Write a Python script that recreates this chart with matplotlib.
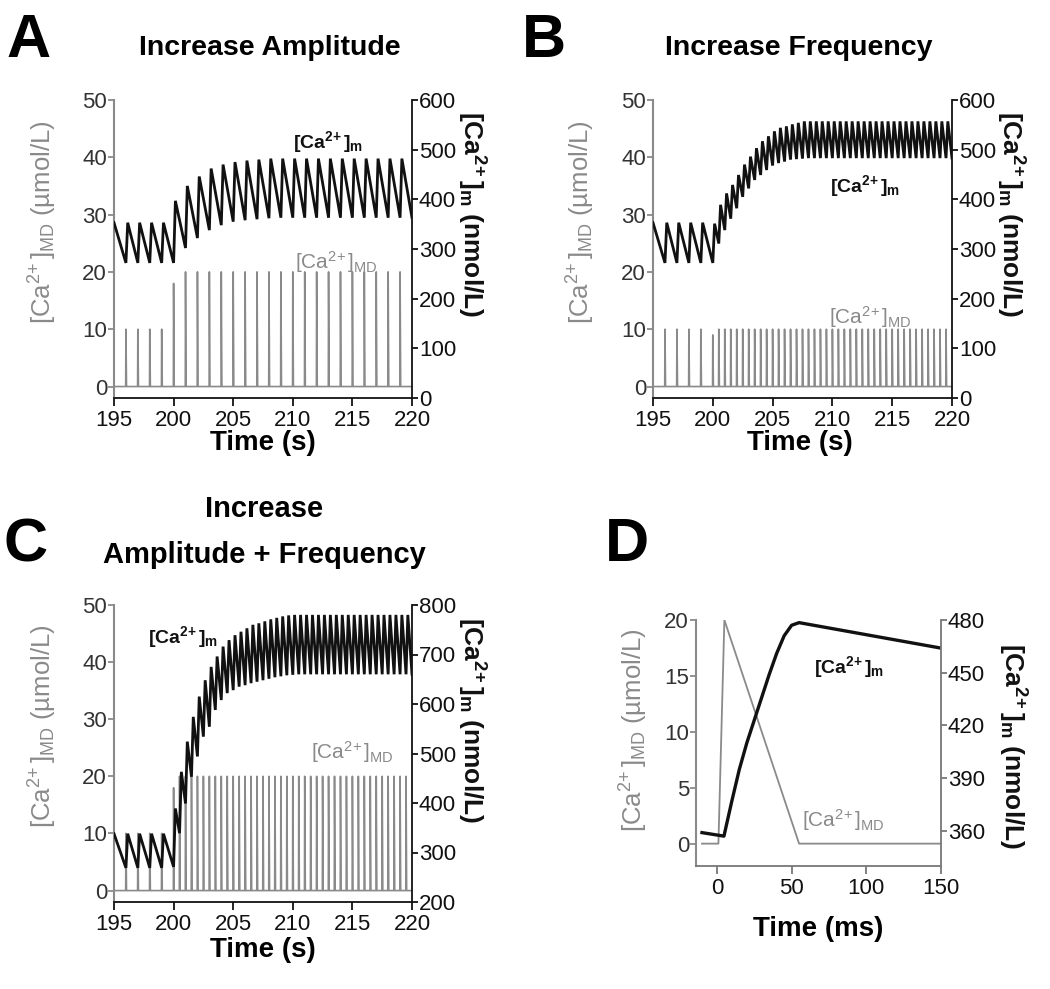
import numpy as np
import matplotlib
matplotlib.use("Agg")
import matplotlib.pyplot as plt

plt.rcParams["font.family"] = "Liberation Sans"
plt.rcParams["mathtext.fontset"] = "custom"
plt.rcParams["mathtext.rm"] = "Liberation Sans"
plt.rcParams["mathtext.bf"] = "Liberation Sans:bold"
plt.rcParams["mathtext.it"] = "Liberation Sans:italic"

W, H = 1050, 989
GRAY = "#8a8a8a"
BLACK = "#111111"

# time window of panels A-C (s)
T_START, T_END = 195, 220

# ---- panel A: increase amplitude ----
spikeA_t = [196, 197, 198, 199, 200, 201, 202, 203, 204, 205, 206, 207, 208, 209,
            210, 211, 212, 213, 214, 215, 216, 217, 218, 219]
spikeA_amp = [10, 10, 10, 10, 18, 20, 20, 20, 20, 20, 20, 20, 20, 20,
              20, 20, 20, 20, 20, 20, 20, 20, 20, 20]
mA_t = [195] + spikeA_t
mA_peak = [353, 353, 353, 353, 353, 397, 427, 446, 462, 470, 475, 478, 480,
           482, 482, 482, 482, 482, 482, 482, 482, 482, 482, 482, 482]
mA_trough = [272, 272, 272, 272, 272, 302, 322, 338, 348, 355, 358, 360, 362,
             363, 363, 363, 363, 363, 363, 363, 363, 363, 363, 363, 363]

# ---- panel B: increase frequency ----
spikeB_t = [196, 197, 198, 199, 200, 200.5, 201, 201.5, 202, 202.5, 203, 203.5,
            204, 204.5, 205, 205.5, 206, 206.5, 207, 207.5, 208, 208.5, 209, 209.5,
            210, 210.5, 211, 211.5, 212, 212.5, 213, 213.5, 214, 214.5, 215, 215.5,
            216, 216.5, 217, 217.5, 218, 218.5, 219, 219.5]
spikeB_amp = [10, 10, 10, 10, 9, 10, 10, 10, 10, 10, 10, 10, 10, 10, 10, 10, 10,
              10, 10, 10, 10, 10, 10, 10, 10, 10, 10, 10, 10, 10, 10, 10, 10, 10,
              10, 10, 10, 10, 10, 10, 10, 10, 10, 10]
mB_t = [195] + spikeB_t
mB_peak = [353, 353, 353, 353, 353,
           351, 389, 412, 429, 449, 470, 486, 503, 517, 527, 537, 544, 547, 551, 554,
           557, 557, 557, 557, 557, 557, 557, 557, 557, 557, 557, 557, 557, 557, 557,
           557, 557, 557, 557, 557, 557, 557, 557, 557, 557]
mB_trough = [272, 272, 272, 272, 272,
             311, 338, 361, 382, 405, 422, 439, 449, 459, 468, 473, 476, 480, 481, 482,
             483, 483, 483, 483, 483, 483, 483, 483, 483, 483, 483, 483, 483, 483, 483,
             483, 483, 483, 483, 483, 483, 483, 483, 483, 483]

# ---- panel C: increase amplitude + frequency ----
spikeC_t = spikeB_t
spikeC_amp = [10, 10, 10, 10, 18, 20, 20, 20, 20, 20, 20, 20, 20, 20, 20, 20, 20,
              20, 20, 20, 20, 20, 20, 20, 20, 20, 20, 20, 20, 20, 20, 20, 20, 20,
              20, 20, 20, 20, 20, 20, 20, 20, 20, 20]
mC_t = [195] + spikeC_t
mC_peak = [338, 338, 338, 338, 338,
           389, 463, 524, 574, 615, 648, 675, 696, 716, 729, 739, 746, 753, 760, 763,
           767, 771, 774, 777, 779, 780, 780, 780, 780, 780, 780, 780, 780, 780, 780,
           780, 780, 780, 780, 780, 780, 780, 780, 780, 780]
mC_trough = [269, 269, 269, 269, 271,
             339, 399, 453, 494, 534, 554, 588, 608, 622, 628, 635, 638, 642, 645, 648,
             651, 654, 656, 658, 659, 660, 660, 660, 660, 660, 660, 660, 660, 660, 660,
             660, 660, 660, 660, 660, 660, 660, 660, 660, 660]

# ---- panel D: single spike, ms scale ----
mdD_t = [-10, 1, 5, 55, 150]
mdD_v = [0, 0, 20, 0, 0]
mD_t = [-10, 4.7, 10, 15, 20, 25, 30, 35, 40, 45, 50, 55, 150]
mD_v = [359, 357, 377, 395, 410, 423, 436, 449, 461, 471, 477, 478.5, 464]

LBL_MD = r"[Ca$^{\mathrm{2\!+}}$]$_{\mathrm{MD}}$"
LBL_M = r"[Ca$^{\mathbf{2\!+}}$]$_{\mathbf{m}}$"


def md_trace(times, amps, t0, t1, rise=0.02, fall=0.05):
    xs, ys = [t0], [0]
    for t, a in zip(times, amps):
        xs += [t - rise, t, t + fall]
        ys += [0, a, 0]
    xs.append(t1)
    ys.append(0)
    return xs, ys


def m_trace(times, peaks, troughs, t1, rise=0.15):
    xs, ys = [times[0]], [peaks[0]]
    for i in range(1, len(times)):
        xs += [times[i], times[i] + rise]
        ys += [troughs[i - 1], peaks[i]]
    xs.append(t1)
    ys.append(troughs[-1])
    return xs, ys


def px_axes(fig, l, t, r, b):
    return fig.add_axes([l / W, 1 - b / H, (r - l) / W, (b - t) / H])


def ftext(fig, x, y, s, **kw):
    return fig.text(x / W, 1 - y / H, s, **kw)


def style(ax, ax2, xlim, xticks, ylim, yticks, y2lim, y2ticks, right_col=BLACK, bottom_col=BLACK):
    ax.set_xlim(*xlim)
    ax.set_xticks(xticks)
    ax.set_ylim(*ylim)
    ax.set_yticks(yticks)
    ax2.set_ylim(*y2lim)
    ax2.set_yticks(y2ticks)
    for s in ["top", "right"]:
        ax.spines[s].set_visible(False)
    for s in ["top", "left", "bottom"]:
        ax2.spines[s].set_visible(False)
    ax.spines["left"].set_color(GRAY)
    ax.spines["left"].set_linewidth(1.5)
    ax.spines["bottom"].set_color(bottom_col)
    ax.spines["bottom"].set_linewidth(1.3)
    ax2.spines["right"].set_color(right_col)
    ax2.spines["right"].set_linewidth(1.3)
    ax.tick_params(axis="y", direction="out", length=4, width=1.3, color=GRAY,
                   labelcolor="#333333", labelsize=16, pad=1)
    ax.tick_params(axis="x", direction="out", length=6, width=1.3, color=bottom_col,
                   labelcolor=BLACK, labelsize=16, pad=3)
    ax2.tick_params(axis="y", direction="out", length=4, width=1.3, color=right_col,
                    labelcolor=BLACK, labelsize=16, pad=1)
    ax.patch.set_visible(False)


def time_panel(fig, box, sp_t, sp_amp, m_t, m_pk, m_tr, y2lim, y2ticks):
    ax = px_axes(fig, *box)
    ax2 = ax.twinx()
    x, y = md_trace(sp_t, sp_amp, T_START, T_END)
    ax.plot(x, y, color=GRAY, lw=1.2)
    x, y = m_trace(m_t, m_pk, m_tr, T_END)
    ax2.plot(x, y, color=BLACK, lw=2.0, solid_joinstyle="miter")
    style(ax, ax2, (T_START, T_END), [195, 200, 205, 210, 215, 220],
          (-2, 50), [0, 10, 20, 30, 40, 50], y2lim, y2ticks)
    return ax, ax2


fig = plt.figure(figsize=(W / 100, H / 100), dpi=100)

# A
axA, axA2 = time_panel(fig, (114, 100, 412, 398), spikeA_t, spikeA_amp,
                       mA_t, mA_peak, mA_trough, (0, 600), range(0, 601, 100))
axA.text(0.72, 0.86, LBL_M, transform=axA.transAxes, ha="center", va="center",
         fontsize=14, fontweight="bold", color=BLACK)
axA.text(0.745, 0.456, LBL_MD, transform=axA.transAxes, ha="center", va="center",
         fontsize=15, color=GRAY)

# B
axB, axB2 = time_panel(fig, (653, 100, 952, 398), spikeB_t, spikeB_amp,
                       mB_t, mB_peak, mB_trough, (0, 600), range(0, 601, 100))
axB.text(0.709, 0.711, LBL_M, transform=axB.transAxes, ha="center", va="center",
         fontsize=14, fontweight="bold", color=BLACK)
axB.text(0.726, 0.272, LBL_MD, transform=axB.transAxes, ha="center", va="center",
         fontsize=15, color=GRAY)

# C
axC, axC2 = time_panel(fig, (114, 605, 412, 902), spikeC_t, spikeC_amp,
                       mC_t, mC_peak, mC_trough, (200, 800), range(200, 801, 100))
axC.text(0.232, 0.892, LBL_M, transform=axC.transAxes, ha="center", va="center",
         fontsize=14, fontweight="bold", color=BLACK)
axC.text(0.799, 0.505, LBL_MD, transform=axC.transAxes, ha="center", va="center",
         fontsize=15, color=GRAY)

# D
axD = px_axes(fig, 696, 620, 941, 866)
axD2 = axD.twinx()
axD.plot(mdD_t, mdD_v, color=GRAY, lw=1.3)
axD2.plot(mD_t, mD_v, color=BLACK, lw=2.4)
style(axD, axD2, (-14, 150), [0, 50, 100, 150], (-2, 20), [0, 5, 10, 15, 20],
      (340, 480), [360, 390, 420, 450, 480], right_col="#777777", bottom_col="#777777")
axD.tick_params(axis="x", labelcolor=BLACK)
axD.text(0.624, 0.809, LBL_M, transform=axD.transAxes, ha="center", va="center",
         fontsize=14, fontweight="bold", color=BLACK)
axD.text(0.60, 0.187, LBL_MD, transform=axD.transAxes, ha="center", va="center",
         fontsize=15, color=GRAY)

# axis labels
left_lbl = LBL_MD + " (µmol/L)"
right_lbl = LBL_M + " (nmol/L)"
for x, y in [(43, 222), (581, 222), (43, 726), (634, 730)]:
    ftext(fig, x, y, left_lbl, rotation=90, ha="center", va="center",
          fontsize=18.5, color=GRAY)
for x, y in [(471, 214), (1010, 214), (471, 720), (1012, 746)]:
    ftext(fig, x, y, right_lbl, rotation=270, ha="center", va="center",
          fontsize=19, fontweight="bold", color=BLACK)
for x, y, s in [(263, 443, "Time (s)"), (800, 443, "Time (s)"),
                (263, 950, "Time (s)"), (818, 929, "Time (ms)")]:
    ftext(fig, x, y, s, ha="center", va="center", fontsize=20, fontweight="bold")

# titles and panel letters
ftext(fig, 270, 55, "Increase Amplitude", ha="center", va="baseline", fontsize=20.5, fontweight="bold")
ftext(fig, 799, 55, "Increase Frequency", ha="center", va="baseline", fontsize=20.5, fontweight="bold")
ftext(fig, 264, 517, "Increase", ha="center", va="baseline", fontsize=21, fontweight="bold")
ftext(fig, 264, 563, "Amplitude + Frequency", ha="center", va="baseline", fontsize=21, fontweight="bold")
for x, y, s in [(6, 57, "A"), (522, 57, "B"), (4, 561, "C"), (605, 561, "D")]:
    ftext(fig, x, y, s, ha="left", va="baseline", fontsize=44, fontweight="bold")

fig.savefig("out.png", dpi=100)
